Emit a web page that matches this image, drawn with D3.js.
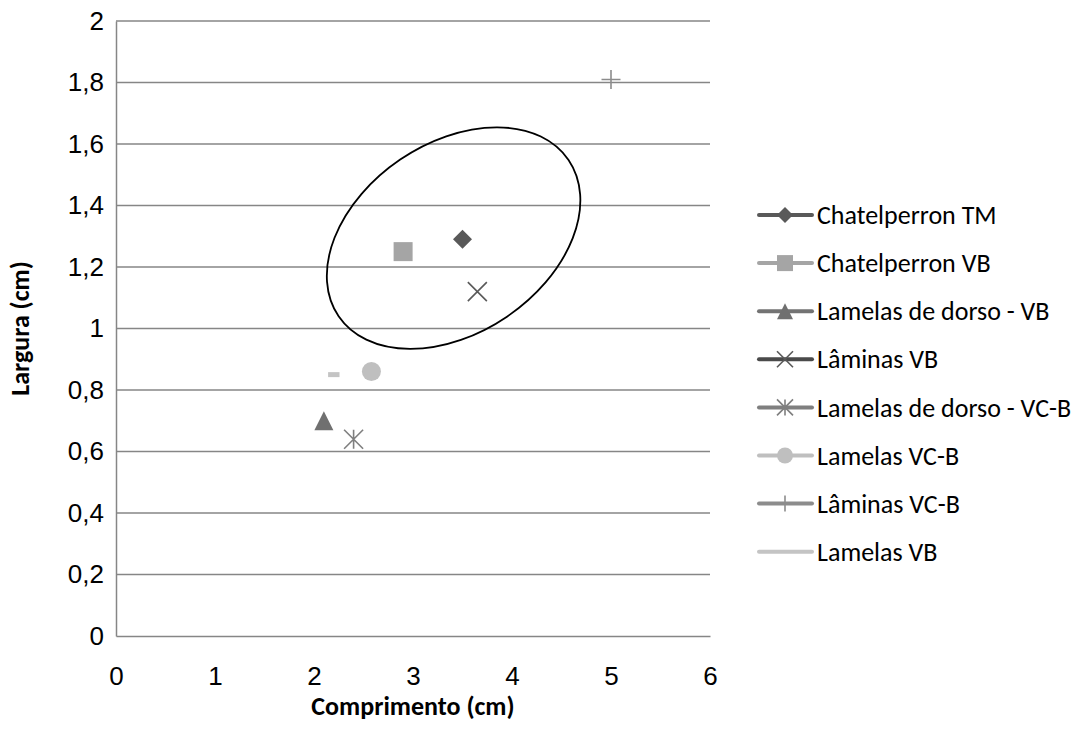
<!DOCTYPE html>
<html>
<head>
<meta charset="utf-8">
<script src="https://cdn.jsdelivr.net/npm/d3@7/dist/d3.min.js"></script>
<style>
  html, body { margin: 0; padding: 0; background: #fff; }
  svg { display: block; font-family: Calibri, Carlito, Lato, "Open Sans", sans-serif; }
</style>
</head>
<body>
<svg id="chart" width="1082" height="746"></svg>
<script>
// ---- data ----
const seriesNames = ["Chatelperron TM", "Chatelperron VB", "Lamelas de dorso - VB", "Lâminas VB",
                     "Lamelas de dorso - VC-B", "Lamelas VC-B", "Lâminas VC-B", "Lamelas VB"];
const comprimento = [3.5, 2.9, 2.1, 3.65, 2.4, 2.58, 5.0, 2.2];
const largura     = [1.29, 1.25, 0.70, 1.12, 0.64, 0.86, 1.81, 0.85];
const markerTypes = ["diamond", "square", "triangle", "x", "asterisk", "circle", "plus", "dash"];
const markerColors = ["#595959", "#a5a5a5", "#707070", "#595959", "#7f7f7f", "#bfbfbf", "#8c8c8c", "#c4c4c4"];
const legendLineColors = ["#595959", "#a5a5a5", "#737373", "#4a4a4a", "#7f7f7f", "#bfbfbf", "#8c8c8c", "#c4c4c4"];
const xTicks = [0, 1, 2, 3, 4, 5, 6];
const yTicks = [0, 0.2, 0.4, 0.6, 0.8, 1, 1.2, 1.4, 1.6, 1.8, 2];
const xTitle = "Comprimento (cm)";
const yTitle = "Largura (cm)";
// annotation ellipse (center in data units)
const ellipseCenter = [3.41, 1.294];

// ---- layout ----
const svg = d3.select("#chart");
const plot = { left: 116, right: 710, top: 21, bottom: 636 };
const x = d3.scaleLinear().domain([0, 6]).range([plot.left, plot.right]);
const y = d3.scaleLinear().domain([0, 2]).range([plot.bottom, plot.top]);
const ptBR = d3.formatLocale({ decimal: ",", thousands: ".", grouping: [3], currency: ["", ""] });
const fmt = ptBR.format(".1~f");
const gridColor = "#868686";
const FS = 26;

// gridlines
svg.append("g").selectAll("line").data(yTicks.filter(d => d > 0)).join("line")
  .attr("x1", plot.left).attr("x2", plot.right)
  .attr("y1", d => y(d)).attr("y2", d => y(d))
  .attr("stroke", gridColor).attr("stroke-width", 1.5);

// axes
const yAxis = d3.axisLeft(y).tickValues(yTicks).tickFormat(fmt).tickSize(0).tickPadding(12);
const gy = svg.append("g").attr("transform", `translate(${plot.left},0)`).call(yAxis);
gy.select(".domain").attr("stroke", gridColor).attr("stroke-width", 1.5);
gy.selectAll("text").attr("font-size", FS).attr("fill", "#000");

const xAxis = d3.axisBottom(x).tickValues(xTicks).tickFormat(d => String(d)).tickSize(0).tickPadding(31);
const gx = svg.append("g").attr("transform", `translate(0,${plot.bottom})`).call(xAxis);
gx.select(".domain").attr("stroke", gridColor).attr("stroke-width", 1.5);
gx.selectAll("text").attr("font-size", FS).attr("fill", "#000");

// axis titles
svg.append("text").attr("x", (plot.left + plot.right) / 2).attr("y", 715)
  .attr("text-anchor", "middle").attr("font-size", FS).attr("font-weight", "bold").text(xTitle);
svg.append("text").attr("transform", `translate(29,${(plot.top + plot.bottom) / 2}) rotate(-90)`)
  .attr("text-anchor", "middle").attr("font-size", FS).attr("font-weight", "bold").text(yTitle);

// marker drawing
function drawMarker(g, type, color, s) {
  const h = s / 2;
  switch (type) {
    case "diamond":
      g.append("path").attr("d", `M0,${-h}L${h},0L0,${h}L${-h},0Z`).attr("fill", color); break;
    case "square":
      g.append("rect").attr("x", -h).attr("y", -h).attr("width", s).attr("height", s).attr("fill", color); break;
    case "triangle":
      g.append("path").attr("d", `M0,${-h}L${h},${h}L${-h},${h}Z`).attr("fill", color); break;
    case "circle":
      g.append("circle").attr("r", h).attr("fill", color); break;
    case "x":
      g.append("path").attr("d", `M${-h},${-h}L${h},${h}M${h},${-h}L${-h},${h}`)
        .attr("stroke", color).attr("stroke-width", 1.6).attr("fill", "none"); break;
    case "asterisk":
      g.append("path").attr("d", `M${-h},${-h}L${h},${h}M${h},${-h}L${-h},${h}M0,${-h}L0,${h}`)
        .attr("stroke", color).attr("stroke-width", 1.6).attr("fill", "none"); break;
    case "plus":
      g.append("path").attr("d", `M${-h},0L${h},0M0,${-h}L0,${h}`)
        .attr("stroke", color).attr("stroke-width", 1.6).attr("fill", "none"); break;
    case "dash":
      g.append("rect").attr("x", -s * 0.3).attr("y", -2.5).attr("width", s * 0.6).attr("height", 5).attr("fill", color); break;
  }
}

// points
const pts = svg.append("g");
seriesNames.forEach((name, i) => {
  const g = pts.append("g").attr("transform", `translate(${x(comprimento[i])},${y(largura[i])})`);
  drawMarker(g, markerTypes[i], markerColors[i], 19);
});

// ellipse annotation
svg.append("ellipse")
  .attr("transform", `translate(${x(ellipseCenter[0])},${y(ellipseCenter[1])}) rotate(-34.2)`)
  .attr("rx", 139).attr("ry", 95)
  .attr("fill", "none").attr("stroke", "#000").attr("stroke-width", 1.8);

// legend
const legend = svg.append("g");
const legY0 = 215, legStep = 48.1;
seriesNames.forEach((name, i) => {
  const yy = legY0 + i * legStep;
  const g = legend.append("g").attr("transform", `translate(0,${yy})`);
  g.append("line").attr("x1", 759).attr("x2", 812).attr("y1", 0).attr("y2", 0)
    .attr("stroke", legendLineColors[i]).attr("stroke-width", 4).attr("stroke-linecap", "round");
  const m = g.append("g").attr("transform", "translate(785,0)");
  if (markerTypes[i] !== "dash") drawMarker(m, markerTypes[i], markerColors[i], 16);
  g.append("text").attr("x", 817).attr("y", 0).attr("dy", "0.35em")
    .attr("font-size", 26).attr("fill", "#000").text(name);
});
</script>
</body>
</html>
